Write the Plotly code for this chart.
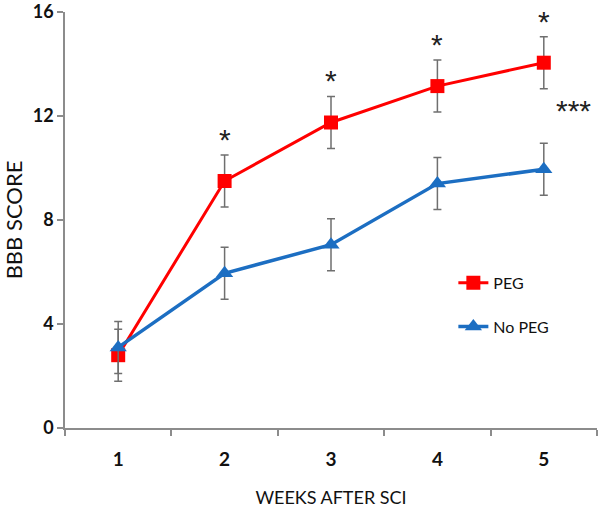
import plotly.graph_objects as go

weeks = [1, 2, 3, 4, 5]
week_labels = ["1", "2", "3", "4", "5"]

peg = [2.8, 9.5, 11.75, 13.15, 14.05]
peg_err = [1.0, 1.0, 1.0, 1.0, 1.0]

no_peg = [3.1, 5.95, 7.05, 9.4, 9.95]
no_peg_err = [1.0, 1.0, 1.0, 1.0, 1.0]

# weeks where PEG differs from control (single star above PEG point)
star_weeks = [2, 3, 4, 5]
y_ticks = [0, 4, 8, 12, 16]

FONT = "Lato"
STAR_FONT = "Liberation Sans"

fig = go.Figure()
fig.add_trace(go.Scatter(x=weeks, y=peg, name="PEG", mode="lines+markers",
                         line=dict(color="#FF0000", width=3),
                         marker=dict(symbol="square", size=14, color="#FF0000"),
                         error_y=dict(type="data", array=peg_err, color="#6f6f6f",
                                      thickness=1.5, width=4),
                         legendgroup="a"))
fig.add_trace(go.Scatter(x=weeks, y=no_peg, name="No PEG", mode="lines+markers",
                         line=dict(color="#1C6EC2", width=3.5),
                         marker=dict(symbol="triangle-up", size=15, color="#1C6EC2"),
                         error_y=dict(type="data", array=no_peg_err, color="#6f6f6f",
                                      thickness=1.5, width=4),
                         legendgroup="b"))

# significance stars
for w in star_weeks:
    i = weeks.index(w)
    fig.add_annotation(x=w, y=peg[i] + peg_err[i] + 0.6, text="*", showarrow=False,
                       font=dict(family=STAR_FONT, size=30, color="#222"), yanchor="middle")
fig.add_annotation(x=5.28, y=12.2, text="***", showarrow=False,
                   font=dict(family=STAR_FONT, size=30, color="#222"), yanchor="middle")

fig.update_layout(
    width=600, height=508,
    margin=dict(l=65, r=3, t=12, b=80),
    plot_bgcolor="white", paper_bgcolor="white",
    font=dict(family=FONT, color="#111"),
    showlegend=True,
    legend=dict(x=0.73, y=0.39, xanchor="left", yanchor="top",
                font=dict(family=FONT, size=16), tracegroupgap=20,
                bgcolor="rgba(0,0,0,0)"),
    xaxis=dict(range=[0.5, 5.5], tickvals=weeks, ticktext=week_labels,
               ticks="", showgrid=False, zeroline=False, automargin=False,
               showline=True, linecolor="#8c8c8c", linewidth=1.5,
               tickfont=dict(family=FONT, size=19, weight="bold"),
               ticklabelstandoff=13,
               minor=dict(tick0=0.5, dtick=1, ticks="outside", ticklen=6,
                          tickcolor="#8c8c8c", tickwidth=1.5, showgrid=False),
               title=dict(text="WEEKS AFTER SCI", font=dict(family=FONT, size=18),
                          standoff=24)),
    yaxis=dict(range=[0, 16], tickvals=y_ticks, ticks="outside", ticklen=6,
               tickcolor="#8c8c8c", tickwidth=1.5, showgrid=False, zeroline=False,
               automargin=False, ticklabeloverflow="allow",
               showline=True, linecolor="#8c8c8c", linewidth=1.5,
               tickfont=dict(family=FONT, size=18, weight="bold"),
               title=dict(text="BBB SCORE", font=dict(family=FONT, size=22),
                          standoff=8)),
)

# drop the browser's default 8px body margin so the figure sits at the page corner
fig.write_html("out.html", config={"displayModeBar": False},
               post_script="document.body.style.margin='0px';")
